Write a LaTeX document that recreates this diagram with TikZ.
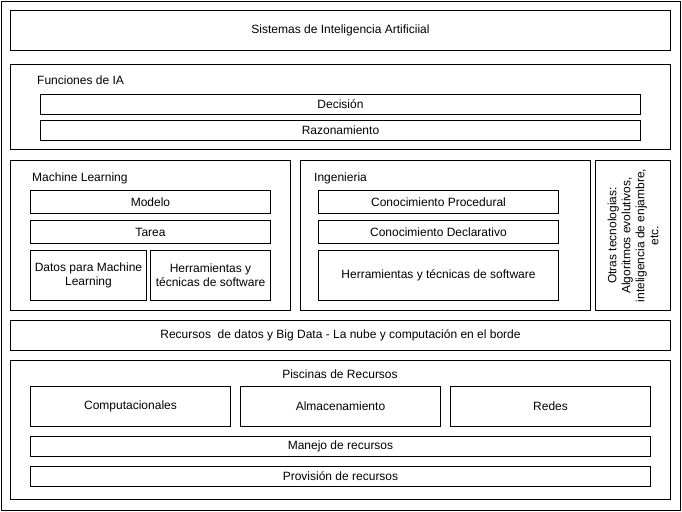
\documentclass[tikz,border=0pt]{standalone}
\usepackage{fontspec}
\setmainfont{Liberation Sans}
\begin{document}
\begin{tikzpicture}[x=1pt,y=-1pt,
	every node/.style={font=\fontsize{12}{14}\selectfont},
	caja/.style={draw, line width=1pt, rectangle, inner sep=0pt, anchor=north west, align=center},
	etiqueta/.style={anchor=west, inner sep=0pt}]
	\useasboundingbox (0,0) rectangle (682,511);
	\node[caja, minimum width=679, minimum height=509] (marco) at (1,1) {};
	% capa superior
	\node[caja, minimum width=660, minimum height=40] (sistemas) at (10,10) {Sistemas de Inteligencia Artificiial};
	\node[caja, minimum width=660, minimum height=85] (funciones) at (10,64) {};
	\node[etiqueta] (funcioneslbl) at (37,80) {Funciones de IA};
	\node[caja, minimum width=600, minimum height=20] (decision) at (40,94) {Decisión};
	\node[caja, minimum width=600, minimum height=20] (razon) at (40,120) {Razonamiento};
	% machine learning
	\node[caja, minimum width=280, minimum height=150] (ml) at (10,160) {};
	\node[etiqueta] (mllbl) at (32,178) {Machine Learning};
	\node[caja, minimum width=240, minimum height=23] (modelo) at (30,190) {Modelo};
	\node[caja, minimum width=240, minimum height=23] (tarea) at (30,220) {Tarea};
	\node[caja, minimum width=116, minimum height=50] (datos) at (30,250) {Datos para Machine\\Learning};
	\node[caja, minimum width=120, minimum height=50] (herrml) at (150,250) {Herramientas y\\técnicas de software};
	% ingenieria
	\node[caja, minimum width=290, minimum height=150] (ing) at (300,160) {};
	\node[etiqueta] (inglbl) at (314,178) {Ingenieria};
	\node[caja, minimum width=240, minimum height=23] (proc) at (318,190) {Conocimiento Procedural};
	\node[caja, minimum width=240, minimum height=23] (decl) at (318,220) {Conocimiento Declarativo};
	\node[caja, minimum width=240, minimum height=50] (herring) at (318,250) {Herramientas y técnicas de software};
	% otras
	\node[caja, minimum width=75, minimum height=150] (otras) at (595,160) {};
	\node[rotate=90, align=center] (otraslbl) at (otras.center) {Otras tecnologias:\\Algoritmos evolutivos,\\inteligencia de enjambre,\\etc.};
	% recursos
	\node[caja, minimum width=660, minimum height=30] (recursos) at (10,320) {Recursos\ \ de datos y Big Data - La nube y computación en el borde};
	\node[caja, minimum width=660, minimum height=139] (piscinas) at (10,360) {};
	\node (piscinaslbl) at (340,374) {Piscinas de Recursos};
	\node[caja, minimum width=200, minimum height=40] (comp) at (30,386) {Computacionales};
	\node[caja, minimum width=200, minimum height=40] (alm) at (240,386) {Almacenamiento};
	\node[caja, minimum width=200, minimum height=40] (redes) at (450,386) {Redes};
	\node[caja, minimum width=620, minimum height=20] (manejo) at (30,436) {Manejo de recursos};
	\node[caja, minimum width=620, minimum height=20] (provision) at (30,466) {Provisión de recursos};
\end{tikzpicture}
\end{document}
